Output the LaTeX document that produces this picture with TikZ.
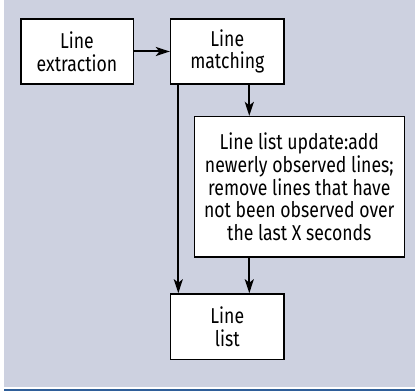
\documentclass[tikz,border=0pt]{standalone}
\usepackage{fontspec}
\setmainfont{Fira Sans}[FakeStretch=0.82]
\usetikzlibrary{arrows.meta}
\definecolor{bggrey}{RGB}{205,209,224}
\definecolor{rulebl}{RGB}{47,95,153}
\begin{document}
\begin{tikzpicture}[x=1pt,y=1pt,
  box/.style={draw=black,line width=1.6pt,fill=white,inner sep=0pt,align=center,
    font=\fontsize{21.5}{22.7}\selectfont},
  arr/.style={line width=2pt,-{Stealth[length=14pt,width=9pt,inset=3.5pt]}}]
\useasboundingbox (0,0) rectangle (415,391);
\fill[bggrey] (4,4.3) rectangle (415,391);
\fill[rulebl] (4,0) rectangle (415,1.8);
\node[box,minimum width=112.6pt,minimum height=65pt] (ext) at (77,339.5) {Line\\extraction};
\node[box,minimum width=113.3pt,minimum height=65pt] (match) at (227.3,339.5) {Line\\matching};
\node[box,minimum width=210pt,minimum height=140.6pt] (upd) at (299.3,204) {Line list update:add\\newerly observed lines;\\remove lines that have\\not been observed over\\the last X seconds};
\node[box,minimum width=113.3pt,minimum height=65.3pt] (list) at (227.3,64.3) {Line\\list};
\coordinate (m1) at (249.3,0);
\coordinate (m2) at (178.3,0);
\draw[arr] (ext.east) -- (match.west);
\draw[arr] (match.south -| m1) -- (upd.north -| m1);
\draw[arr] (upd.south -| m1) -- (list.north -| m1);
\draw[arr] (match.south -| m2) -- (list.north -| m2);
\end{tikzpicture}
\end{document}
